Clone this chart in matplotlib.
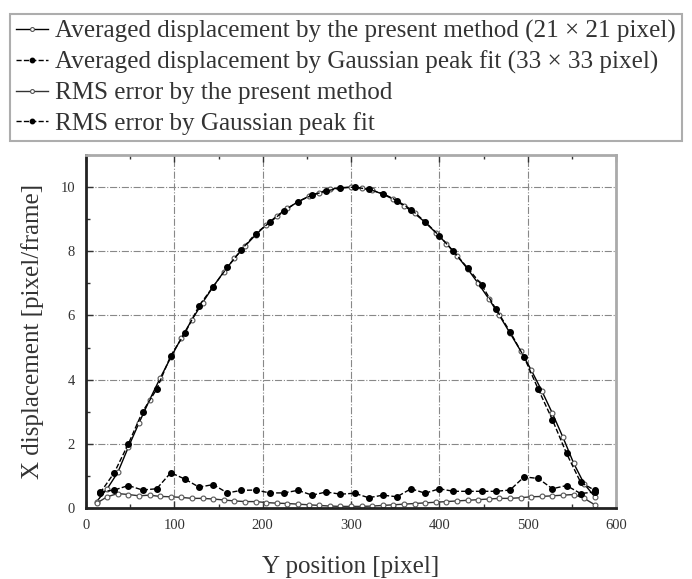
import matplotlib
matplotlib.use("Agg")
import matplotlib.pyplot as plt
from matplotlib.ticker import MultipleLocator

plt.rcParams['font.family'] = ['Liberation Serif', 'DejaVu Serif']

# averaged displacement, present method (21 x 21 window)
pos_present = [12, 24, 36, 48, 60, 72, 84, 96, 108, 120, 132, 144, 156, 168, 180, 192,
               204, 216, 228, 240, 252, 264, 276, 288, 300, 312, 324, 336, 348, 360, 372, 384,
               396, 408, 420, 432, 444, 456, 468, 480, 492, 504, 516, 528, 540, 552, 564, 576]
disp_present = [0.2, 0.6, 1.11, 1.9, 2.65, 3.37, 4.05, 4.69, 5.3, 5.87, 6.4, 6.9, 7.36, 7.78, 8.16, 8.51,
                8.82, 9.1, 9.34, 9.54, 9.71, 9.83, 9.93, 9.98, 10.0, 9.97, 9.9, 9.78, 9.62, 9.42, 9.18, 8.9,
                8.58, 8.24, 7.86, 7.45, 7.0, 6.52, 6.0, 5.45, 4.9, 4.3, 3.65, 2.95, 2.2, 1.4, 0.75, 0.35]
rms_present = [0.15, 0.35, 0.45, 0.42, 0.38, 0.4, 0.36, 0.35, 0.33, 0.3, 0.3, 0.28, 0.25, 0.22, 0.2, 0.2,
               0.17, 0.15, 0.14, 0.12, 0.1, 0.08, 0.06, 0.05, 0.05, 0.05, 0.06, 0.08, 0.1, 0.12, 0.14, 0.16,
               0.18, 0.2, 0.22, 0.24, 0.26, 0.28, 0.3, 0.3, 0.32, 0.35, 0.36, 0.38, 0.4, 0.42, 0.3, 0.1]

# Gaussian peak fit (33 x 33 window)
pos_gauss = [16, 32, 48, 64, 80, 96, 112, 128, 144, 160, 176, 192, 208, 224, 240, 256, 272, 288,
             304, 320, 336, 352, 368, 384, 400, 416, 432, 448, 464, 480, 496, 512, 528, 544, 560, 576]
disp_gauss = [0.47, 1.1, 2.0, 3.0, 3.7, 4.75, 5.45, 6.3, 6.9, 7.5, 8.05, 8.55, 8.9, 9.25, 9.55, 9.75, 9.88, 9.97,
              10.0, 9.93, 9.8, 9.58, 9.3, 8.92, 8.48, 8.0, 7.48, 6.95, 6.2, 5.5, 4.7, 3.7, 2.75, 1.7, 0.8, 0.55]
rms_gauss = [0.5, 0.56, 0.7, 0.56, 0.6, 1.1, 0.9, 0.65, 0.73, 0.47, 0.55, 0.56, 0.47, 0.47, 0.55, 0.4, 0.5, 0.43,
             0.46, 0.32, 0.4, 0.35, 0.6, 0.46, 0.6, 0.52, 0.52, 0.52, 0.52, 0.56, 0.97, 0.92, 0.6, 0.7, 0.45, 0.5]

labels = ['Averaged displacement by the present method (21 \u00d7 21 pixel)',
          'Averaged displacement by Gaussian peak fit (33 \u00d7 33 pixel)',
          'RMS error by the present method',
          'RMS error by Gaussian peak fit']

fig = plt.figure(figsize=(6.92, 5.79), dpi=100)
ax = fig.add_axes([86 / 692, 71 / 579, 530 / 692, 353 / 579])

l1, = ax.plot(pos_present, disp_present, '-', color='black', lw=1.0, marker='o', ms=3.5,
              mfc='white', mec='#555555', mew=0.8)
l2, = ax.plot(pos_gauss, disp_gauss, '--', color='black', lw=1.0, marker='o', ms=4,
              mfc='black', mec='black')
l3, = ax.plot(pos_present, rms_present, '-', color='#333333', lw=1.0, marker='o', ms=3.5,
              mfc='white', mec='#555555', mew=0.8)
l4, = ax.plot(pos_gauss, rms_gauss, '--', color='black', lw=1.0, marker='o', ms=4,
              mfc='black', mec='black')

ax.set_xlim(0, 600)
ax.set_ylim(0, 11)
ax.xaxis.set_major_locator(MultipleLocator(100))
ax.xaxis.set_minor_locator(MultipleLocator(50))
ax.yaxis.set_major_locator(MultipleLocator(2))
ax.yaxis.set_minor_locator(MultipleLocator(1))
ax.tick_params(which='both', direction='in', top=True, right=False, labelsize=10.5,
               colors='#333333', pad=8)
ax.tick_params(which='major', length=5, width=1)
ax.tick_params(which='minor', length=3, width=1)
ax.grid(True, which='major', color='#888888', ls='-.', lw=0.8)

for side in ['left', 'bottom']:
    ax.spines[side].set_linewidth(2)
    ax.spines[side].set_color('#222222')
for side in ['top', 'right']:
    ax.spines[side].set_linewidth(2)
    ax.spines[side].set_color('#aaaaaa')

ax.set_xlabel('Y position [pixel]', fontsize=18, color='#333333', labelpad=17)
ax.set_ylabel('X displacement [pixel/frame]', fontsize=18, color='#333333', labelpad=12)

leg = fig.legend([l1, l2, l3, l4], labels, loc='upper left', bbox_to_anchor=(10 / 692, 1 - 14 / 579),
                 fontsize=18.1, handlelength=1.25, handletextpad=0.3, labelspacing=0.3,
                 borderpad=0.25, borderaxespad=0, fancybox=False, frameon=True, markerscale=0.8)
leg.get_frame().set_edgecolor('#999999')
leg.get_frame().set_linewidth(1.5)
for t in leg.get_texts():
    t.set_color('#333333')

fig.savefig('out.png', dpi=100)
